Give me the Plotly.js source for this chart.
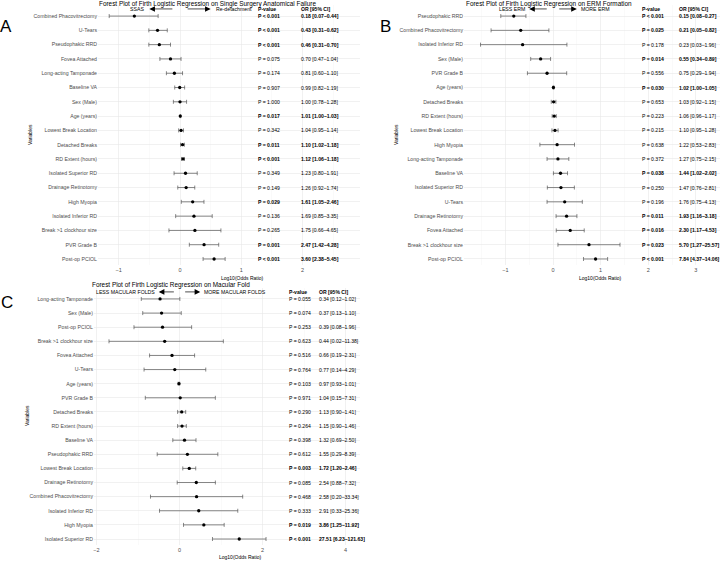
<!DOCTYPE html>
<html><head><meta charset="utf-8">
<script src="https://cdn.plot.ly/plotly-3.0.1.min.js"></script>
<style>html,body{margin:0;padding:0;background:#fff}</style>
</head><body><div id="chart" style="width:722px;height:561px"></div>
<script>
// ---------- Panel A: Single Surgery Anatomical Failure ----------
const labelsA = ["Combined Phacovitrectomy","U-Tears","Pseudophakic RRD","Fovea Attached","Long-acting Tamponade","Baseline VA","Sex (Male)","Age (years)","Lowest Break Location","Detached Breaks","RD Extent (hours)","Isolated Superior RD","Drainage Retinotomy","High Myopia","Isolated Inferior RD","Break >1 clockhour size","PVR Grade B","Post-op PCIOL"];
const orA = [0.18,0.43,0.46,0.70,0.81,0.99,1.00,1.01,1.04,1.10,1.12,1.23,1.26,1.61,1.69,1.75,2.47,3.60];
const loA = [0.07,0.31,0.31,0.47,0.60,0.82,0.78,1.00,0.95,1.02,1.06,0.80,0.92,1.05,0.85,0.66,1.42,2.38];
const hiA = [0.44,0.62,0.70,1.04,1.10,1.19,1.28,1.03,1.14,1.18,1.18,1.91,1.74,2.46,3.35,4.65,4.28,5.45];
const pA  = ["< 0.001","< 0.001","< 0.001","= 0.075","= 0.174","= 0.907","= 1.000","= 0.017","= 0.342","= 0.011","< 0.001","= 0.349","= 0.149","= 0.029","= 0.136","= 0.265","= 0.001","< 0.001"];

// ---------- Panel B: ERM Formation ----------
const labelsB = ["Pseudophakic RRD","Combined Phacovitrectomy","Isolated Inferior RD","Sex (Male)","PVR Grade B","Age (years)","Detached Breaks","RD Extent (hours)","Lowest Break Location","High Myopia","Long-acting Tamponade","Baseline VA","Isolated Superior RD","U-Tears","Drainage Retinotomy","Fovea Attached","Break >1 clockhour size","Post-op PCIOL"];
const orB = [0.15,0.21,0.23,0.55,0.75,1.02,1.03,1.06,1.10,1.22,1.27,1.44,1.47,1.76,1.93,2.30,5.70,7.84];
const loB = [0.08,0.05,0.03,0.34,0.29,1.00,0.92,0.96,0.95,0.53,0.75,1.02,0.76,0.75,1.16,1.17,1.27,4.37];
const hiB = [0.27,0.82,1.96,0.89,1.94,1.05,1.15,1.17,1.28,2.83,2.15,2.02,2.81,4.13,3.18,4.53,25.57,14.06];
const pB  = ["< 0.001","= 0.025","= 0.178","= 0.014","= 0.556","= 0.030","= 0.653","= 0.223","= 0.215","= 0.638","= 0.372","= 0.038","= 0.250","= 0.196","= 0.011","= 0.016","= 0.023","< 0.001"];

// ---------- Panel C: Macular Fold ----------
const labelsC = ["Long-acting Tamponade","Sex (Male)","Post-op PCIOL","Break >1 clockhour size","Fovea Attached","U-Tears","Age (years)","PVR Grade B","Detached Breaks","RD Extent (hours)","Baseline VA","Pseudophakic RRD","Lowest Break Location","Drainage Retinotomy","Combined Phacovitrectomy","Isolated Inferior RD","High Myopia","Isolated Superior RD"];
const orC = [0.34,0.37,0.39,0.44,0.66,0.77,0.97,1.04,1.13,1.15,1.32,1.55,1.72,2.54,2.58,2.91,3.86,27.51];
const loC = [0.12,0.13,0.08,0.02,0.19,0.14,0.93,0.15,0.90,0.90,0.69,0.29,1.20,0.88,0.20,0.33,1.25,6.23];
const hiC = [1.02,1.10,1.96,11.38,2.31,4.29,1.01,7.31,1.41,1.46,2.50,8.39,2.46,7.32,33.34,25.36,11.92,121.63];
const pC  = ["= 0.055","= 0.074","= 0.253","= 0.623","= 0.516","= 0.764","= 0.103","= 0.971","= 0.290","= 0.264","= 0.398","= 0.612","= 0.003","= 0.085","= 0.468","= 0.333","= 0.019","< 0.001"];

const titles = ["Forest Plot of Firth Logistic Regression on Single Surgery Anatomical Failure",
                "Forest Plot of Firth Logistic Regression on ERM Formation",
                "Forest Plot of Firth Logistic Regression on Macular Fold"];
const arrowLeft = ["SSAS","LESS ERM","LESS MACULAR FOLDS"];
const arrowRight = ["Re-detachment","MORE ERM","MORE MACULAR FOLDS"];

// ---------- layout geometry (pixels) ----------
const W=722, H=561;
const FONT = "Liberation Sans, Arial, Helvetica, sans-serif";
const panels = [
  {labels:labelsA, or:orA, lo:loA, hi:hiA, p:pA, xs:"x", ys:"y",
   px:[98,360], x0:180, sx:61.3, ybot:259, step:14.29, dtick:1, minor:0.5,
   colP:1.24, colOR:1.94, title:[97,4], letter:["A",6,26], vlab:[30,135], xt:[242,278]},
  {labels:labelsB, or:orB, lo:loB, hi:hiB, p:pB, xs:"x2", ys:"y2",
   px:[464,720], x0:553, sx:47.6, ybot:259, step:14.29, dtick:1, minor:0.5,
   colP:1.83, colOR:2.6, title:[464,4], letter:["B",385,26], vlab:[396,135], xt:[600,278]},
  {labels:labelsC, or:orC, lo:loC, hi:hiC, p:pC, xs:"x3", ys:"y3",
   px:[94,360], x0:179.5, sx:41.5, ybot:539, step:14.12, dtick:2, minor:1,
   colP:2.59, colOR:3.31, title:[90,285], letter:["C",7,302], vlab:[27,415], xt:[240,557]}
];

const traces=[], annotations=[];
const layout = {width:W, height:H, margin:{l:0,r:0,t:0,b:0}, showlegend:false,
  paper_bgcolor:"#fff", plot_bgcolor:"#fff", font:{family:FONT, color:"#000"}, annotations};

const yLo=0.55, yHi=18.8, TS=5.1;
panels.forEach((P,k)=>{
  const n=P.labels.length;
  const ys = P.labels.map((_,i)=>n-i);
  const lg = P.or.map(v=>Math.log10(v));
  const lgLo = P.lo.map(v=>Math.log10(v));
  const lgHi = P.hi.map(v=>Math.log10(v));
  traces.push({type:"scatter", mode:"markers", x:lg, y:ys, xaxis:P.xs, yaxis:P.ys,
    marker:{size:3.3, color:"#000"}, hoverinfo:"skip",
    error_x:{type:"data", symmetric:false, array:lg.map((v,i)=>lgHi[i]-v), arrayminus:lg.map((v,i)=>v-lgLo[i]),
      color:"#555", thickness:0.7, width:2}});
  const pyTop = P.ybot-(yHi-1)*P.step, pyBot = P.ybot-(yLo-1)*P.step;
  const xr=[(P.px[0]-P.x0)/P.sx,(P.px[1]-P.x0)/P.sx];
  const suf = k===0?"":String(k+1);
  layout["xaxis"+suf] = {domain:[P.px[0]/W,P.px[1]/W], range:xr, anchor:P.ys,
    tick0:0, dtick:P.dtick, showgrid:true, gridcolor:"#e8e8e8", gridwidth:0.6,
    minor:{dtick:P.minor, tick0:0, showgrid:true, gridcolor:"#f2f2f2", gridwidth:0.4},
    zeroline:false, showline:false, ticks:"", tickfont:{size:5.5,color:"#4d4d4d"}, fixedrange:true};
  layout["yaxis"+suf] = {domain:[1-pyBot/H,1-pyTop/H], range:[yLo,yHi], anchor:P.xs,
    tickmode:"array", tickvals:ys, ticktext:P.labels, showgrid:true, gridcolor:"#e8e8e8", gridwidth:0.6,
    zeroline:false, showline:false, ticks:"", tickfont:{size:5.2,color:"#4d4d4d"}, fixedrange:true};
  const yref=P.ys, xref=P.xs;
  // table
  P.p.forEach((s,i)=>{
    const num=parseFloat(s.replace(/[<=]/g,""));
    const bold = s.startsWith("<") || num<0.05;
    const ptxt = "P "+s, otxt = P.or[i].toFixed(2)+" ["+P.lo[i].toFixed(2)+"\u2013"+P.hi[i].toFixed(2)+"]";
    annotations.push({xref,yref,x:P.colP,y:ys[i],text:bold?"<b>"+ptxt+"</b>":ptxt,showarrow:false,xanchor:"left",yanchor:"middle",font:{size:TS}});
    annotations.push({xref,yref,x:P.colOR,y:ys[i],text:bold?"<b>"+otxt+"</b>":otxt,showarrow:false,xanchor:"left",yanchor:"middle",font:{size:TS}});
  });
  annotations.push({xref,yref,x:P.colP,y:n+0.5,text:"<b>P-value</b>",showarrow:false,xanchor:"left",yanchor:"middle",font:{size:TS}});
  annotations.push({xref,yref,x:P.colOR,y:n+0.5,text:"<b>OR [95% CI]</b>",showarrow:false,xanchor:"left",yanchor:"middle",font:{size:TS}});
  // direction arrows
  annotations.push({xref,yref,axref:xref,ayref:yref,x:-0.5,y:n+0.5,ax:-0.1,ay:n+0.5,text:"",showarrow:true,arrowhead:2,arrowsize:1.6,arrowwidth:0.7,arrowcolor:"#000"});
  annotations.push({xref,yref,axref:xref,ayref:yref,x:0.5,y:n+0.5,ax:0.1,ay:n+0.5,text:"",showarrow:true,arrowhead:2,arrowsize:1.6,arrowwidth:0.7,arrowcolor:"#000"});
  annotations.push({xref,yref,x:-0.55,y:n+0.5,text:arrowLeft[k],showarrow:false,xanchor:"right",yanchor:"middle",font:{size:5.2}});
  annotations.push({xref,yref,x:0.55,y:n+0.5,text:arrowRight[k],showarrow:false,xanchor:"left",yanchor:"middle",font:{size:5.2}});
  // titles and labels in paper coords
  annotations.push({xref:"paper",yref:"paper",x:P.title[0]/W,y:1-P.title[1]/H,text:titles[k],showarrow:false,xanchor:"left",yanchor:"middle",font:{size:6.4}});
  annotations.push({xref:"paper",yref:"paper",x:P.letter[1]/W,y:1-P.letter[2]/H,text:P.letter[0],showarrow:false,xanchor:"center",yanchor:"middle",font:{size:17}});
  annotations.push({xref:"paper",yref:"paper",x:P.vlab[0]/W,y:1-P.vlab[1]/H,text:"Variables",textangle:-90,showarrow:false,xanchor:"center",yanchor:"middle",font:{size:5}});
  annotations.push({xref:"paper",yref:"paper",x:P.xt[0]/W,y:1-P.xt[1]/H,text:"Log10(Odds Ratio)",showarrow:false,xanchor:"center",yanchor:"middle",font:{size:5}});
});

Plotly.newPlot("chart", traces, layout, {staticPlot:true, displayModeBar:false});
</script></body></html>
